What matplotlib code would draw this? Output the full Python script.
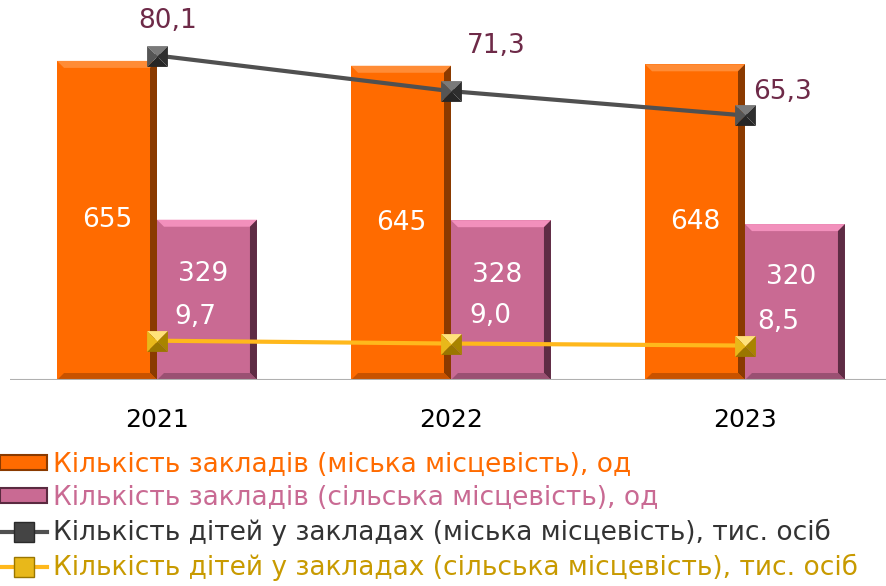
import numpy as np
import matplotlib
matplotlib.use("Agg")
import matplotlib.pyplot as plt
from matplotlib.patches import Polygon, Patch
from matplotlib.lines import Line2D
from matplotlib.path import Path

plt.rcParams['font.family'] = ['DejaVu Sans']

years = ['2021', '2022', '2023']
urban_inst = [655, 645, 648]
rural_inst = [329, 328, 320]
urban_kids = [80.1, 71.3, 65.3]
rural_kids = [9.7, 9.0, 8.5]

labels = ['Кількість закладів (міська місцевість), од',
          'Кількість закладів (сільська місцевість), од',
          'Кількість дітей у закладах (міська місцевість), тис. осіб',
          'Кількість дітей у закладах (сільська місцевість), тис. осіб']

c_orange = '#FF6B00'
c_pink = '#C96A93'
c_gray = '#505050'
c_gold = '#FFB81C'
c_maroon = '#6E2A48'

W, H = 887, 586
fig = plt.figure(figsize=(W / 100, H / 100), dpi=100)

# axes placed in pixels
ax_left, ax_bottom, ax_w, ax_h = 10, 206, 882, 380
ax = fig.add_axes([ax_left / W, ax_bottom / H, ax_w / W, ax_h / H])
ax2 = ax.twinx()
ax.set_xlim(-0.5, 2.5)
ax.set_ylim(0, 780)
ax2.set_ylim(0, 93.8)

x = np.arange(len(years))
bw = 0.34

px_x = 3.0 / ax_w        # data units per pixel
px_y = 780.0 / ax_h
bev = 7


def bevel_bar(x0, h, color, light, dark, darker):
    x1 = x0 + bw
    bx, by = bev * px_x, bev * px_y
    ax.add_patch(Polygon([(x0, 0), (x1, 0), (x1, h), (x0, h)], closed=True,
                         fc=color, ec='none', zorder=2))
    # top
    ax.add_patch(Polygon([(x0, h), (x1, h), (x1 - bx, h - by), (x0 + bx, h - by)],
                         fc=light, ec='none', zorder=3))
    # right
    ax.add_patch(Polygon([(x1, h), (x1, 0), (x1 - bx, by), (x1 - bx, h - by)],
                         fc=darker, ec='none', zorder=3))
    # bottom
    ax.add_patch(Polygon([(x0, 0), (x1, 0), (x1 - bx, by), (x0 + bx, by)],
                         fc=dark, ec='none', zorder=3))


for i in range(len(years)):
    bevel_bar(x[i] - bw, urban_inst[i], c_orange, '#FF8C36', '#C85200', '#8A3A00')
    bevel_bar(x[i], rural_inst[i], c_pink, '#F290BC', '#9A5072', '#5E2C44')
    ax.text(x[i] - bw / 2, urban_inst[i] / 2, str(urban_inst[i]), color='white',
            fontsize=19, ha='center', va='center', zorder=5)
    ax.text(x[i] + bw / 2 - 0.012, rural_inst[i] * 0.66, str(rural_inst[i]), color='white',
            fontsize=19, ha='center', va='center', zorder=5)

ax.axhline(0, color='#B0B0B0', lw=1.5, zorder=4)
ax.set_xticks(x)
ax.set_xticklabels(years, fontsize=18)
ax.tick_params(axis='x', length=0, pad=20)
ax.set_yticks([])
ax2.set_yticks([])
for a in (ax, ax2):
    for s in a.spines.values():
        s.set_visible(False)

# pyramid markers drawn as four triangles
tri = {
    'top': Path([(-1, 1), (1, 1), (0, 0), (-1, 1)]),
    'right': Path([(1, 1), (1, -1), (0, 0), (1, 1)]),
    'bottom': Path([(1, -1), (-1, -1), (0, 0), (1, -1)]),
    'left': Path([(-1, -1), (-1, 1), (0, 0), (-1, -1)]),
}
shades_gray = {'top': '#7A7A7A', 'right': '#2E2E2E', 'bottom': '#262626', 'left': '#555555'}
shades_gold = {'top': '#FFE27A', 'right': '#A88400', 'bottom': '#9A7600', 'left': '#E8B81A'}

ax2.plot(x, urban_kids, color=c_gray, lw=3, zorder=6)
ax2.plot(x, rural_kids, color=c_gold, lw=3, zorder=6)
for side, p in tri.items():
    ax2.plot(x, urban_kids, ls='none', marker=p, ms=15, mfc=shades_gray[side],
             mec='none', zorder=7)
    ax2.plot(x, rural_kids, ls='none', marker=p, ms=15, mfc=shades_gold[side],
             mec='none', zorder=7)

urban_off = [(11, 35), (45, 45), (38, 23)]
rural_off = [(38, 24), (39, 28), (33, 24)]
for i in range(len(years)):
    ax2.annotate(f'{urban_kids[i]:.1f}'.replace('.', ','), (x[i], urban_kids[i]),
                 xytext=urban_off[i], textcoords='offset pixels', fontsize=19,
                 color=c_maroon, ha='center', va='center', zorder=8)
    ax2.annotate(f'{rural_kids[i]:.1f}'.replace('.', ','), (x[i], rural_kids[i]),
                 xytext=rural_off[i], textcoords='offset pixels', fontsize=19,
                 color='white', ha='center', va='center', zorder=8)

handles = [
    Patch(fc=c_orange, ec='#8A3A00', lw=1.5),
    Patch(fc=c_pink, ec='#5A2A40', lw=1.5),
    Line2D([], [], color=c_gray, lw=3, marker='s', ms=14, mfc='#444444', mec='#2A2A2A'),
    Line2D([], [], color=c_gold, lw=3, marker='s', ms=14, mfc='#E8B81A', mec='#9A7600'),
]
fig.legend(handles, labels, loc='upper left', bbox_to_anchor=(-0.012, 1 - 441 / H),
           frameon=False, fontsize=19, handlelength=1.8, handleheight=0.5,
           handletextpad=0.2, labelspacing=0.29, borderaxespad=0,
           labelcolor=[c_orange, c_pink, '#333333', '#C89A00'])

fig.savefig('out.png', dpi=100)
